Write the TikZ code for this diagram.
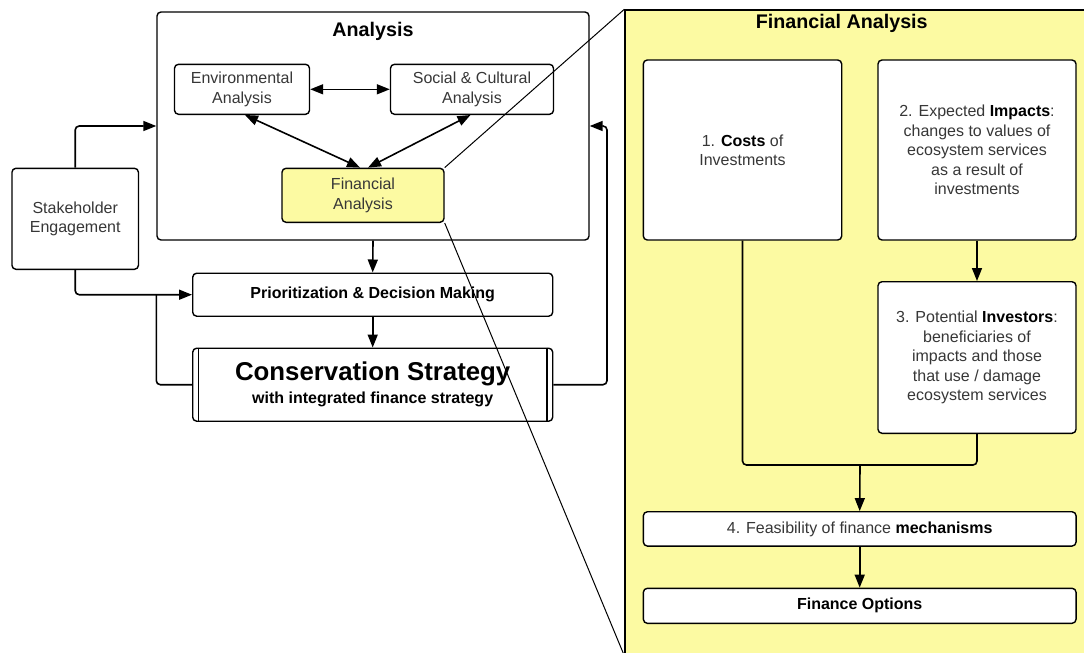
\documentclass[tikz,border=0pt]{standalone}
\usepackage{fontspec}
\setmainfont{Liberation Sans}
\usetikzlibrary{arrows.meta,calc}
\definecolor{fayellow}{RGB}{252,250,162}
\definecolor{txtgray}{RGB}{55,55,55}
\newcommand{\kw}[1]{{\bfseries\color{black}#1}}

\begin{document}
\begin{tikzpicture}[x=1pt,y=-1pt,
 font=\fontsize{16}{19.4}\selectfont, text=txtgray,
 bx/.style={draw,line width=1.4pt,rounded corners=4pt,fill=white,align=center,inner sep=2pt},
 hl/.style={bx,fill=fayellow},
 ttl/.style={font=\fontsize{19.7}{24}\selectfont\bfseries,text=black},
 ln/.style={line width=1.6pt,rounded corners=4pt},
 arr/.style={ln,-{Triangle[length=13pt,width=10pt]}},
 dbl/.style={ln,{Triangle[length=13pt,width=10pt]}-{Triangle[length=13pt,width=10pt]}}]
\useasboundingbox (0,0) rectangle (1084,653);
\clip (0,0) rectangle (1084,653);
% overview
\node[bx,minimum width=432pt,minimum height=228pt] (ana) at (373,126) {};
\node[ttl] (anat) at (373,31.7) {Analysis};
\node[bx,minimum width=135pt,minimum height=50pt] (env) at (242,89.3) {Environmental\\Analysis};
\node[bx,minimum width=163pt,minimum height=50pt] (soc) at (472,89.3) {Social \& Cultural\\Analysis};
\node[hl,minimum width=162pt,minimum height=54pt] (fin) at (363,195.3) {Financial\\Analysis};
\node[bx,minimum width=126.5pt,minimum height=101pt] (stake) at (75.2,218.8) {Stakeholder\\Engagement};
\node[bx,minimum width=360pt,minimum height=43pt,font=\fontsize{16}{19.4}\selectfont\bfseries,text=black] (prio) at (372.7,294.7) {Prioritization \& Decision Making};
\node[bx,minimum width=360pt,minimum height=73pt,text=black] (cons) at (372.7,384.7)
 {{\fontsize{25.8}{28}\selectfont\bfseries Conservation Strategy}\\[3.6pt]{\bfseries with integrated finance strategy}};
\draw[line width=1.4pt] ([xshift=6.5pt]cons.north west) -- ([xshift=6.5pt]cons.south west);
\draw[line width=1.4pt] ([xshift=-6.5pt]cons.north east) -- ([xshift=-6.5pt]cons.south east);
\draw[dbl] (env) -- (soc);
\draw[dbl] ([xshift=3pt]env.south) -- ([xshift=-3pt]fin.north);
\draw[dbl] ([xshift=-1.5pt]soc.south) -- ([xshift=5pt]fin.north);
\draw[arr] (stake.north) |- (ana.west);
\draw[arr] (stake.south) |- (prio.west);
\draw[ln] (cons.west) -| (ana.west |- prio.west);
\coordinate (fbr) at (607,126);
\draw[arr] (cons.east) -| (fbr) -- (ana.east);
\draw[arr] (ana.south) -- (prio.north);
\draw[arr] (prio) -- (cons);
% zoomed financial analysis
\node[draw,line width=1.4pt,fill=fayellow,minimum width=469pt,minimum height=645pt,inner sep=0pt] (pnl) at (859.5,332.5) {};
\node[ttl] (pnlt) at (841.7,23.3) {Financial Analysis};
\node[bx,minimum width=198.4pt,minimum height=180pt] (cost) at (742.5,150) {1. \kw{Costs} of\\Investments};
\node[bx,minimum width=198pt,minimum height=180pt] (imp) at (977,150)
 {2. Expected \kw{Impacts}:\\changes to values of\\ecosystem services\\as a result of\\investments};
\node[bx,minimum width=198pt,minimum height=151.6pt] (inv) at (977,357.5)
 {3. Potential \kw{Investors}:\\beneficiaries of\\impacts and those\\that use / damage\\ecosystem services};
\node[bx,minimum width=432.7pt,minimum height=34.3pt] (feas) at (859.7,528.9) {4. Feasibility of finance \kw{mechanisms}};
\node[bx,minimum width=432.7pt,minimum height=35pt] (opt) at (859.7,605.8) {\kw{Finance Options}};
\coordinate (mrg) at (860,465);
\draw[ln] (cost.south) |- (mrg) -| (inv.south);
\draw[arr] (mrg) -- (feas.north);
\draw[arr] (imp) -- (inv);
\draw[arr] (feas) -- (opt);
\draw[line width=1pt] (fin.north east) -- (pnl.north west);
\draw[line width=1pt] (fin.south east) -- (pnl.south west);
\end{tikzpicture}
\end{document}
